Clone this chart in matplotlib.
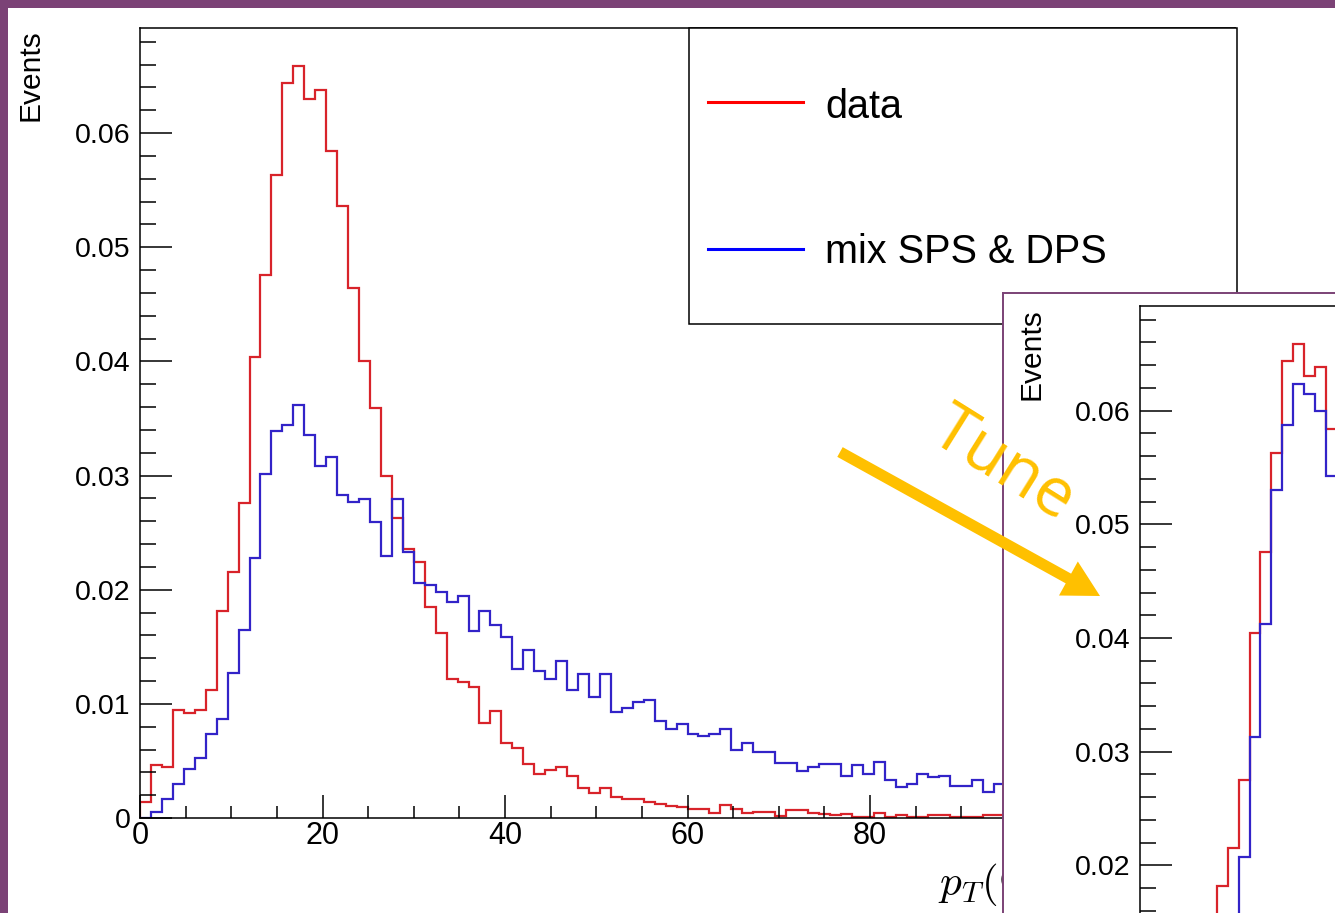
import numpy as np
import matplotlib
matplotlib.use("Agg")
import matplotlib.pyplot as plt
from matplotlib.patches import Rectangle
from matplotlib.ticker import MultipleLocator, FuncFormatter

plt.rcParams['font.family'] = ['Liberation Sans', 'DejaVu Sans']
plt.rcParams['mathtext.fontset'] = 'cm'

# pT histograms, 100 bins of 1.2 GeV from 0 to 120
edges = np.linspace(0, 120, 101)

data_vals = [
    0.00143, 0.00464, 0.00449, 0.00946, 0.00917, 0.00946, 0.0112, 0.01815, 0.02157, 0.02755,
    0.0404, 0.04755, 0.0563, 0.0644, 0.0659, 0.0630, 0.0638, 0.0584, 0.0536, 0.0464,
    0.0400, 0.0359, 0.02995, 0.02624, 0.02353, 0.02245, 0.0185, 0.01617, 0.01214, 0.01194,
    0.01144, 0.00835, 0.0094, 0.0066, 0.0061, 0.00473, 0.00385, 0.0042, 0.00444, 0.00368,
    0.00266, 0.00216, 0.00266, 0.00181, 0.00167, 0.00164, 0.00143, 0.00123, 0.00105, 0.00093,
    0.0008, 0.00076, 0.00041, 0.00114, 0.00076, 0.00041, 0.00055, 0.00055, 0.0002, 0.0007,
    0.0007, 0.0004, 0.00035, 0.00026, 0.00035, 0.0001, 0.0001, 0.00045, 0.00005, 0.00025,
    0.0001, 0.0001, 0.00025, 0.00025, 0.0001, 0.0001, 0.0001, 0.00025, 0.00025, 0.0001,
    0.0002, 0.0001, 0.0001, 0.0002, 0.0001, 0.0, 0.0001, 0.0001, 0.0, 0.0001,
    0.0, 0.0001, 0.0, 0.0, 0.0001, 0.0, 0.0, 0.0, 0.0001, 0.0,
]

mix_vals = [
    0.0, 0.0005, 0.00163, 0.00298, 0.00429, 0.00522, 0.00733, 0.00864, 0.01273, 0.01646,
    0.02274, 0.03012, 0.03392, 0.03441, 0.03617, 0.03354, 0.03085, 0.03164, 0.02828, 0.0277,
    0.0279, 0.02589, 0.02294, 0.0279, 0.02326, 0.02055, 0.0204, 0.01976, 0.01889, 0.01947,
    0.01637, 0.01813, 0.0169, 0.01588, 0.01305, 0.01471, 0.01287, 0.01214, 0.01375, 0.01121,
    0.01258, 0.01062, 0.01258, 0.00925, 0.0096, 0.01019, 0.01033, 0.0085, 0.00777, 0.00823,
    0.0074, 0.0072, 0.0074, 0.0078, 0.00595, 0.00654, 0.0058, 0.0058, 0.00479, 0.00479,
    0.00414, 0.00444, 0.00473, 0.00473, 0.00368, 0.00464, 0.00385, 0.00488, 0.00333, 0.00269,
    0.00298, 0.00385, 0.00362, 0.0037, 0.0028, 0.0028, 0.00333, 0.0023, 0.00298, 0.0027,
    0.0025, 0.0024, 0.0022, 0.0023, 0.0020, 0.0019, 0.0020, 0.0017, 0.0016, 0.0017,
    0.0014, 0.0015, 0.0013, 0.0012, 0.0012, 0.0011, 0.0010, 0.0010, 0.0009, 0.0008,
]

# tuned mixture, only the first bins are visible in the inset
tuned_vals = [
    0.0003, 0.0011, 0.0021, 0.0034, 0.0047, 0.0061, 0.0079, 0.0104, 0.0147, 0.0207,
    0.03125, 0.04125, 0.0530, 0.05873, 0.06235, 0.06149, 0.05994, 0.05425,
]
tuned_edges = edges[:len(tuned_vals) + 1]

legend_labels = ['data', 'mix SPS & DPS']

RED = '#d8232a'
BLUE = '#3223c8'
PURPLE = '#7b4276'
GOLD = '#ffc000'
YMAX = 0.0692

W, H = 1335, 913
fig = plt.figure(figsize=(W / 100, H / 100), dpi=100)
fig.patch.set_facecolor(PURPLE)


def fr(x0, y0, x1, y1):
    # pixel box (top-left origin) -> figure fraction rect
    return [x0 / W, (H - y1) / H, (x1 - x0) / W, (y1 - y0) / H]


def blank(rect, z, edge=None):
    a = fig.add_axes(rect, zorder=z)
    a.set_xticks([])
    a.set_yticks([])
    a.set_facecolor('white')
    for s in a.spines.values():
        if edge is None:
            s.set_visible(False)
        else:
            s.set_color(edge)
            s.set_linewidth(1.4)
    return a


def yfmt(v, p, ymin=0.0):
    if v < ymin - 1e-9:
        return ''
    return '0' if abs(v) < 1e-9 else f'{v:.2f}'


def style_axes(a, ymin_label=0.0):
    a.set_xlim(0, 120)
    a.set_ylim(0, YMAX)
    a.xaxis.set_major_locator(MultipleLocator(20))
    a.xaxis.set_minor_locator(MultipleLocator(5))
    a.yaxis.set_major_locator(MultipleLocator(0.01))
    a.yaxis.set_minor_locator(MultipleLocator(0.002))
    a.yaxis.set_major_formatter(FuncFormatter(lambda v, p: yfmt(v, p, ymin_label)))
    a.xaxis.set_major_formatter(FuncFormatter(lambda v, p: f'{v:g}'))
    a.tick_params(axis='y', which='major', direction='in', length=23, width=1.1,
                  labelsize=20.5, pad=7)
    a.tick_params(axis='y', which='minor', direction='in', length=11.5, width=1.1)
    a.tick_params(axis='x', which='major', direction='in', length=16.5, width=1.1,
                  labelsize=22, pad=2)
    a.tick_params(axis='x', which='minor', direction='in', length=8.5, width=1.1)
    for s in a.spines.values():
        s.set_linewidth(1.1)


# white slide background
blank([8 / W, -0.05, 1.0, (H - 8) / H + 0.05], 0)

# main histogram
ax = fig.add_axes(fr(140, 28, 1235, 818), zorder=1)
style_axes(ax)
ax.stairs(data_vals, edges, color=RED, lw=1.6)
ax.stairs(mix_vals, edges, color=BLUE, lw=1.6)
fig.text(31 / W, (H - 29) / H, 'Events', rotation=90, ha='center', va='top', fontsize=21.5)
ax.text((938 - 140) / 1095, (818 - 895) / 790, r'$p_T(\mathrm{GeV})$', transform=ax.transAxes,
        fontsize=31, ha='left', va='baseline', clip_on=False)

# legend box drawn ROOT style
lx0, lx1 = (689 - 140) / 1095, (1237 - 140) / 1095
ly0 = (818 - 324) / 790
ax.add_patch(Rectangle((lx0, ly0), lx1 - lx0, 1 - ly0, transform=ax.transAxes,
                       facecolor='white', edgecolor='black', lw=1.1, clip_on=False, zorder=5))
for lab, col, yl, yb in zip(legend_labels, ['#ff0000', '#0000ff'], [101.7, 249.3], [118.3, 263.3]):
    ax.plot([(708 - 140) / 1095, (803 - 140) / 1095], [(818 - yl) / 790] * 2,
            color=col, lw=2.2, transform=ax.transAxes, clip_on=False, zorder=6)
    ax.text((825 - 140) / 1095, (818 - yb) / 790, lab, transform=ax.transAxes,
            fontsize=28.5, ha='left', va='baseline', zorder=6)

# pasted second plot (after tuning)
panel = blank([1003 / W, -0.1, 0.5, (H - 293) / H + 0.1], 2, edge=PURPLE)
ax2 = fig.add_axes(fr(1140, 306, 2235, 306 + YMAX * 11370), zorder=3)
style_axes(ax2, ymin_label=0.02)
ax2.tick_params(axis='x', labelbottom=False)
ax2.stairs(data_vals, edges, color=RED, lw=1.6)
ax2.stairs(tuned_vals, tuned_edges, color=BLUE, lw=1.6)
fig.text(1032 / W, (H - 308) / H, 'Events', rotation=90, ha='center', va='top',
         fontsize=21.5, zorder=4)

# arrow + "Tune" overlay in pixel coordinates
top = fig.add_axes([0, 0, 1, 1], zorder=10)
top.set_xlim(0, W)
top.set_ylim(H, 0)
top.axis('off')
top.patch.set_visible(False)
top.annotate('', xy=(1100, 596), xytext=(840, 452),
             arrowprops=dict(facecolor=GOLD, edgecolor='none', width=8,
                             headwidth=28, headlength=26, shrink=0))
top.text(1003, 465, 'Tune', rotation=-32, rotation_mode='anchor', ha='center', va='center',
         fontsize=48, color=GOLD, family=['Open Sans', 'DejaVu Sans'])

fig.savefig('out.png', dpi=100, facecolor=fig.get_facecolor())
